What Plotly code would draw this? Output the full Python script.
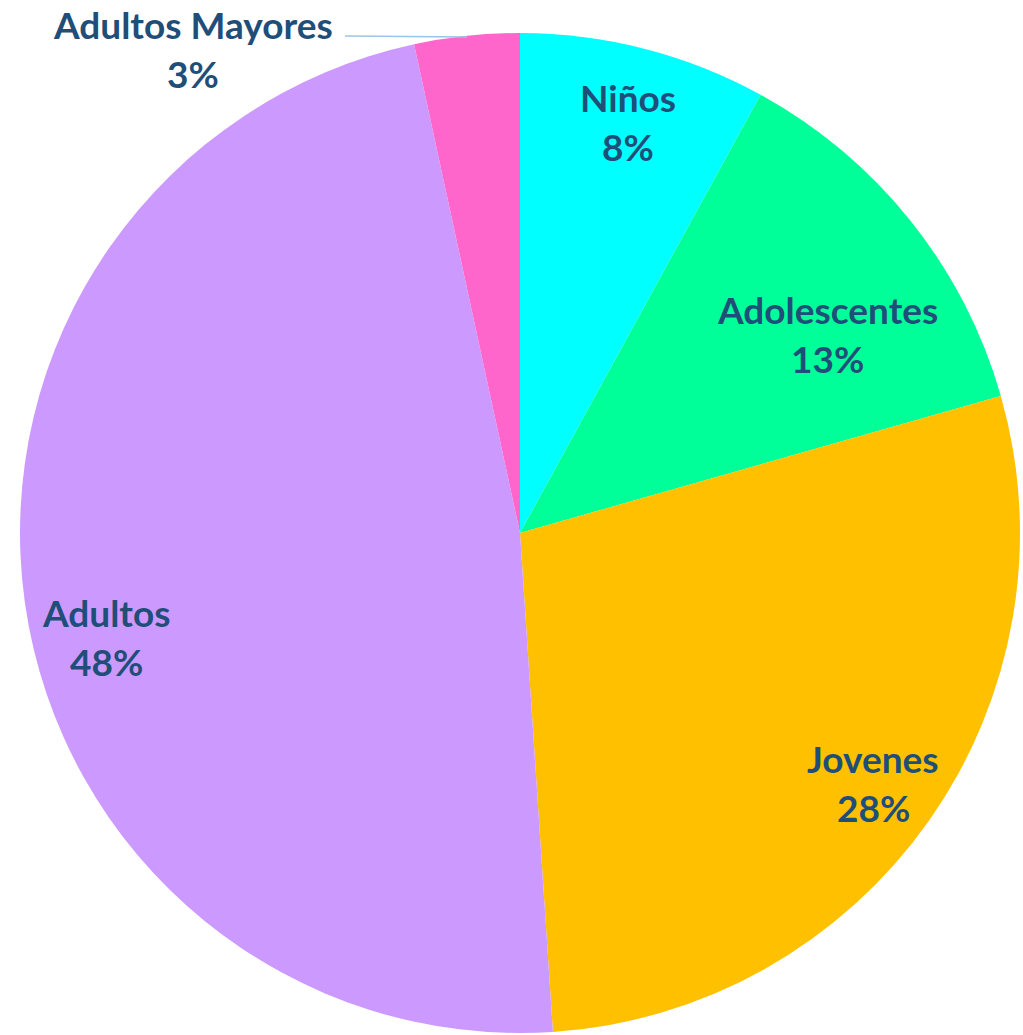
import plotly.graph_objects as go

# data
labels = ["Niños", "Adolescentes", "Jovenes", "Adultos", "Adultos Mayores"]
values = [8.0, 12.6, 28.4, 47.7, 3.4]
colors = ["#00FFFF", "#00FF99", "#FFC000", "#CC99FF", "#FF66CC"]

# label placement (pixel centres of the two text lines)
label_pos = [(628, 97), (827, 309), (873, 758), (106, 612), (193, 24)]
line_gap = 49

W, H = 1023, 1035
total = sum(values)

fig = go.Figure(go.Pie(
    labels=labels,
    values=values,
    marker=dict(colors=colors, line=dict(width=0)),
    sort=False,
    direction="clockwise",
    rotation=0,
    textinfo="none",
    hoverinfo="label+percent",
    showlegend=False,
    domain=dict(x=[20 / W, 1020 / W], y=[2 / H, 1002 / H]),
))

font = dict(family="Lato, 'Open Sans', sans-serif", size=37, color="#1F4E79")
for name, v, (px, py) in zip(labels, values, label_pos):
    pct = f"{round(v / total * 100)}%"
    for txt, yy in [(name, py), (pct, py + line_gap)]:
        fig.add_annotation(
            text=f"<b>{txt}</b>", x=px / W, y=1 - yy / H,
            xref="paper", yref="paper", xanchor="center", yanchor="middle",
            showarrow=False, font=font,
        )

# leader line for the small slice
fig.add_shape(type="line", xref="paper", yref="paper",
              x0=345 / W, y0=1 - 36 / H, x1=467 / W, y1=1 - 37 / H,
              line=dict(color="#9DC3E6", width=1.5))

fig.update_layout(
    width=W, height=H,
    margin=dict(l=0, r=0, t=0, b=0),
    paper_bgcolor="white",
    plot_bgcolor="white",
)

fig.write_html("out.html", config={"displayModeBar": False},
               post_script="document.body.style.margin='0';")
